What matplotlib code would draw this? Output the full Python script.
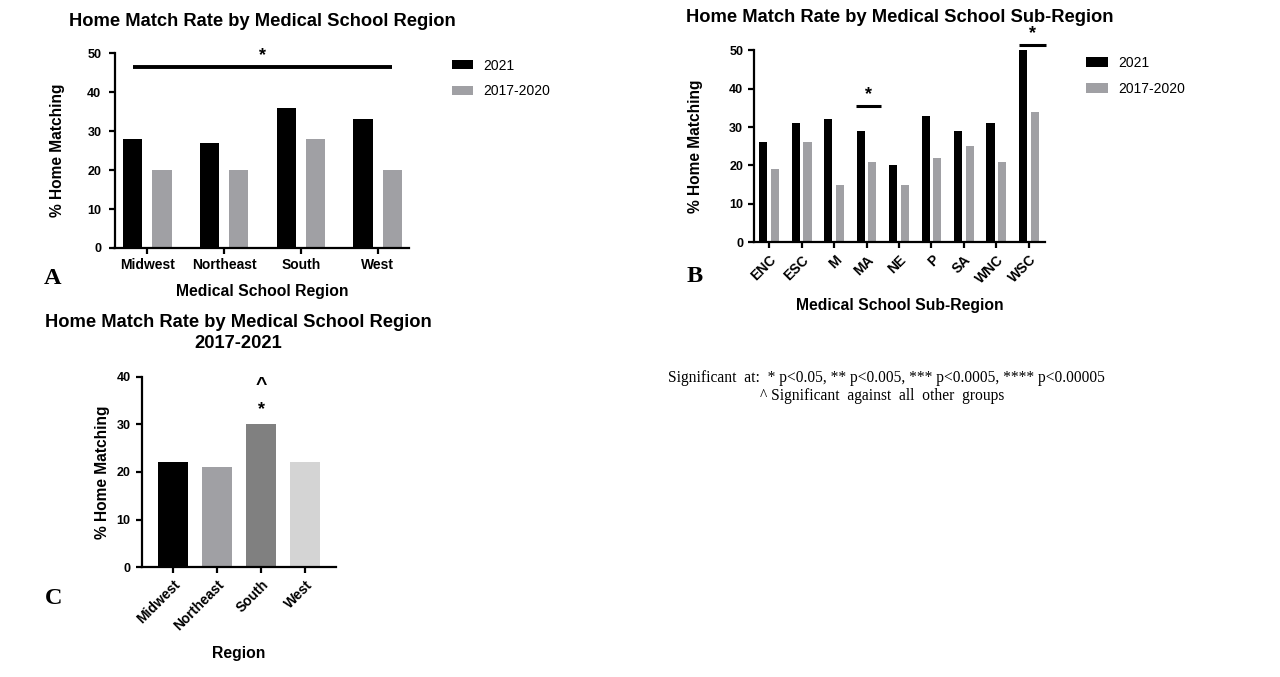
import matplotlib
matplotlib.use("Agg")
import matplotlib.pyplot as plt
import numpy as np

# ---------------- data ----------------
regions = ["Midwest", "Northeast", "South", "West"]
a_2021 = [28, 27, 36, 33]
a_1720 = [20, 20, 28, 20]

subregions = ["ENC", "ESC", "M", "MA", "NE", "P", "SA", "WNC", "WSC"]
b_2021 = [26, 31, 32, 29, 20, 33, 29, 31, 50]
b_1720 = [19, 26, 15, 21, 15, 22, 25, 21, 34]

c_regions = ["Midwest", "Northeast", "South", "West"]
c_all = [22, 21, 30, 22]

series_labels = ["2021", "2017-2020"]
yticks_ab = [0, 10, 20, 30, 40, 50]
yticks_c = [0, 10, 20, 30, 40]

BLACK = "#000000"
GRAY = "#a0a0a4"
c_colors = ["#000000", "#a0a0a4", "#808080", "#d4d4d4"]

plt.rcParams["font.family"] = ["Liberation Sans", "DejaVu Sans"]

W, H = 1280, 677
fig = plt.figure(figsize=(W / 100, H / 100), dpi=100)

TITLE_FS = 13.2
YLAB_FS = 11.2
XLAB_FS = 11.3
XTICK_FS = 10
YTICK_FS = 9
LEG_FS = 10


def px(x, y):
    return x / W, 1 - y / H


def style_ax(ax, ypad=4):
    for s in ["top", "right"]:
        ax.spines[s].set_visible(False)
    for s in ["left", "bottom"]:
        ax.spines[s].set_linewidth(1.6)
    ax.tick_params(axis="both", width=1.6, length=4, direction="out")
    ax.tick_params(axis="y", labelsize=YTICK_FS, pad=ypad)
    for lab in ax.get_yticklabels():
        lab.set_fontweight("bold")
    for lab in ax.get_xticklabels():
        lab.set_fontweight("bold")


def axes_px(l, r, t, b):
    x0, y0 = px(l, b)
    return fig.add_axes([x0, y0, (r - l) / W, (b - t) / H])


def ylabel_at(ax, l, r, xright):
    ax.set_ylabel("% Home Matching", fontsize=YLAB_FS, fontweight="bold")
    ax.yaxis.set_label_coords((xright - l) / (r - l), 0.5)


def legend_at(ax, handles, x, y, hh):
    ax.legend(handles, series_labels, loc="upper left",
              bbox_to_anchor=px(x, y), bbox_transform=fig.transFigure,
              frameon=False, fontsize=LEG_FS, handlelength=1.55, handleheight=hh,
              labelspacing=0.85, handletextpad=0.75, borderaxespad=0, borderpad=0)


# ---------------- Panel A ----------------
AL, AR = 114.5, 409
axA = axes_px(AL, AR, 53.3, 248)
xa = np.arange(len(regions))
bw = 0.25
off = 0.19
hA1 = axA.bar(xa - off, a_2021, bw, color=BLACK)
hA2 = axA.bar(xa + off, a_1720, bw, color=GRAY)
axA.set_xlim(-0.43, 3.41)
axA.set_ylim(0, 50)
axA.set_yticks(yticks_ab)
axA.set_xticks(xa)
axA.set_xticklabels(regions, fontsize=XTICK_FS)
axA.set_xlabel("Medical School Region", fontsize=XLAB_FS, fontweight="bold", labelpad=8)
style_ax(axA, ypad=5.5)
ylabel_at(axA, AL, AR, 65)
axA.plot([xa[0] - off, xa[-1] + off], [46.6, 46.6], color="black", lw=2.8,
         solid_capstyle="butt", clip_on=False)
axA.text(1.5, 47.3, "*", ha="center", va="bottom", fontsize=13, fontweight="bold")
legend_at(axA, [hA1, hA2], 451.7, 58.5, 0.55)
fig.text(*px(262, 21), "Home Match Rate by Medical School Region", ha="center",
         va="center", fontsize=TITLE_FS, fontweight="bold")
fig.text(*px(53, 278), "A", ha="center", va="center", fontsize=17.5,
         fontweight="bold", family=["Liberation Serif"])

# ---------------- Panel B ----------------
BL, BR = 754.3, 1045
axB = axes_px(BL, BR, 50.3, 242.3)
xb = np.arange(len(subregions))
offb = 0.18
hB1 = axB.bar(xb - offb, b_2021, bw, color=BLACK)
hB2 = axB.bar(xb + offb, b_1720, bw, color=GRAY)
axB.set_xlim(-0.46, 8.5)
axB.set_ylim(0, 50)
axB.set_yticks(yticks_ab)
axB.set_xticks(xb)
axB.set_xticklabels(subregions, fontsize=XTICK_FS, rotation=45, ha="right",
                    rotation_mode="anchor")
axB.set_xlabel("Medical School Sub-Region", fontsize=XLAB_FS, fontweight="bold", labelpad=8.5)
style_ax(axB, ypad=4)
ylabel_at(axB, BL, BR, 703)
axB.plot([3 - 0.33, 3 + 0.45], [35.4, 35.4], color="black", lw=2.2,
         solid_capstyle="butt", clip_on=False)
axB.text(3 + 0.05, 36.2, "*", ha="center", va="bottom", fontsize=13, fontweight="bold")
axB.plot([8 - 0.3, 8 + 0.52], [51.3, 51.3], color="black", lw=2.2,
         solid_capstyle="butt", clip_on=False)
axB.text(8 + 0.11, 52.1, "*", ha="center", va="bottom", fontsize=13,
         fontweight="bold", clip_on=False)
legend_at(axB, [hB1, hB2], 1086, 56, 0.75)
fig.text(*px(899.8, 18), "Home Match Rate by Medical School Sub-Region", ha="center",
         va="center", fontsize=TITLE_FS, fontweight="bold")
fig.text(*px(695, 277), "B", ha="center", va="center", fontsize=17.5,
         fontweight="bold", family=["Liberation Serif"])

# ---------------- Panel C ----------------
CL, CR = 141.5, 336
axC = axes_px(CL, CR, 376.7, 567.3)
xc = np.arange(len(c_regions))
axC.bar(xc, c_all, 0.67, color=c_colors)
axC.set_xlim(-0.72, 3.7)
axC.set_ylim(0, 40)
axC.set_yticks(yticks_c)
axC.set_xticks(xc)
axC.set_xticklabels(c_regions, fontsize=XTICK_FS, rotation=45, ha="right",
                    rotation_mode="anchor")
axC.set_xlabel("Region", fontsize=XLAB_FS, fontweight="bold", labelpad=9)
style_ax(axC, ypad=4)
ylabel_at(axC, CL, CR, 110)
axC.text(2, 33.2, "*", ha="center", va="center", fontsize=13, fontweight="bold")
axC.text(2, 38.1, "^", ha="center", va="center", fontsize=14, fontweight="bold")
fig.text(*px(238, 333), "Home Match Rate by Medical School Region\n2017-2021",
         ha="center", va="center", fontsize=TITLE_FS, fontweight="bold", linespacing=1.25)
fig.text(*px(54, 598), "C", ha="center", va="center", fontsize=17.5,
         fontweight="bold", family=["Liberation Serif"])

# ---------------- footnote ----------------
fig.text(*px(886, 378), "Significant  at:  * p<0.05, ** p<0.005, *** p<0.0005, **** p<0.00005",
         ha="center", va="center", fontsize=11.2, family=["Liberation Serif"])
fig.text(*px(882, 396), "^ Significant  against  all  other  groups",
         ha="center", va="center", fontsize=11.2, family=["Liberation Serif"])

fig.savefig("out.png", dpi=100)
